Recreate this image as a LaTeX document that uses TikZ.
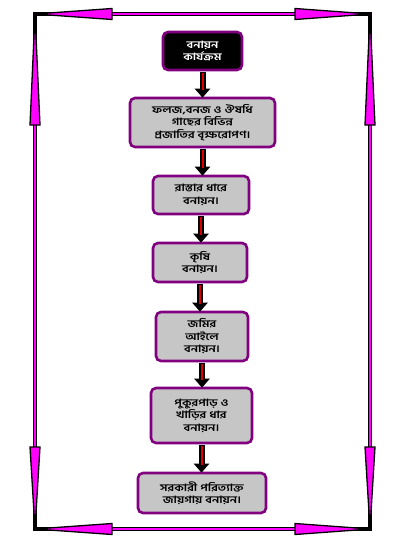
\documentclass[tikz,border=0pt]{standalone}
\usepackage{fontspec}
\newfontfamily\bn[Script=Bengali,FakeStretch=1.25]{Hind Siliguri}
\usetikzlibrary{arrows.meta,calc}
\definecolor{boxpurple}{HTML}{800080}
\definecolor{boxgray}{HTML}{C6C6C6}
\definecolor{mag}{HTML}{FF00FF}
\begin{document}
\begin{tikzpicture}[x=1pt,y=-1pt,
  box/.style={draw=boxpurple,line width=2.6pt,fill=boxgray,rounded corners=5pt,
    align=center,inner sep=1pt,font=\bn\bfseries\fontsize{10}{12.5}\selectfont},
  flowarrow/.style={line width=6pt,-{Triangle[length=9pt,width=15pt]}},
  flowcore/.style={red!85!black,line width=2pt,shorten >=8pt},
  bshaft/.style={line width=4.6pt,black},
  mshaft/.style={line width=1.8pt,mag},
  bhead/.style={fill=mag,draw=black,line width=1.3pt,line join=miter}]
\useasboundingbox (0,0) rectangle (409,547);
% border corners
\coordinate (TL) at (35,14);
\coordinate (TR) at (370,14);
\coordinate (BL) at (35,529);
\coordinate (BR) at (370,529);
% shafts
\draw[bshaft] (TL) -- (TR) -- (BR) -- (BL) -- cycle;
\draw[mshaft] ($(TL)+(60,0)$) -- ($(TR)+(-60,0)$);
\draw[mshaft] ($(BL)+(60,0)$) -- ($(BR)+(-60,0)$);
\draw[mshaft] ($(TL)+(0,90)$) -- ($(BL)+(0,-60)$);
\draw[mshaft] ($(TR)+(0,90)$) -- ($(BR)+(0,-60)$);
% heads top
\draw[bhead] (TL) -- ($(TL)+(77,-5.5)$) -- ($(TL)+(77,5.5)$) -- cycle;
\draw[bhead] (TR) -- ($(TR)+(-75,-5.5)$) -- ($(TR)+(-75,5.5)$) -- cycle;
% heads bottom
\draw[bhead] (BL) -- ($(BL)+(77,-5.5)$) -- ($(BL)+(77,5.5)$) -- cycle;
\draw[bhead] (BR) -- ($(BR)+(-75,-5.5)$) -- ($(BR)+(-75,5.5)$) -- cycle;
% heads left
\draw[bhead] (TL) -- ($(TL)+(-5,111)$) -- ($(TL)+(5,111)$) -- cycle;
\draw[bhead] (BL) -- ($(BL)+(-5,-82)$) -- ($(BL)+(5,-82)$) -- cycle;
% heads right
\draw[bhead] (TR) -- ($(TR)+(-5,111)$) -- ($(TR)+(5,111)$) -- cycle;
\draw[bhead] (BR) -- ($(BR)+(-5,-82)$) -- ($(BR)+(5,-82)$) -- cycle;
% boxes
\node[box,fill=black,text=white,minimum width=79pt,minimum height=38pt] (b1) at (202.5,51) {বনায়ন\\কার্যক্রম};
\node[box,minimum width=145pt,minimum height=49pt] (b2) at (202.5,122.5) {ফলজ,বনজ ও ঔষধি\\গাছের বিভিন্ন\\প্রজাতির বৃক্ষরোপণ।};
\node[box,minimum width=96pt,minimum height=38pt] (b3) at (201,195) {রাস্তার ধারে\\বনায়ন।};
\node[box,minimum width=94pt,minimum height=39pt] (b4) at (200,262.5) {কৃষি\\বনায়ন।};
\node[box,minimum width=92pt,minimum height=49pt] (b5) at (202,336.5) {জমির\\আইলে\\বনায়ন।};
\node[box,minimum width=101pt,minimum height=55pt] (b6) at (201.5,415.5) {পুকুরপাড় ও\\খাড়ির ধার\\বনায়ন।};
\node[box,minimum width=128pt,minimum height=40pt] (b7) at (202,493) {সরকারী পরিত্যাক্ত\\জায়গায় বনায়ন।};
% flow arrows
\foreach \a/\b in {b1/b2,b2/b3,b3/b4,b4/b5,b5/b6,b6/b7}{
  \draw[flowarrow] ([yshift=-1pt]\a.south) -- ([yshift=-1pt]\a.south |- \b.north);
  \draw[flowcore] ([yshift=-1.5pt]\a.south) -- ([yshift=-1pt]\a.south |- \b.north);
}
\end{tikzpicture}
\end{document}
